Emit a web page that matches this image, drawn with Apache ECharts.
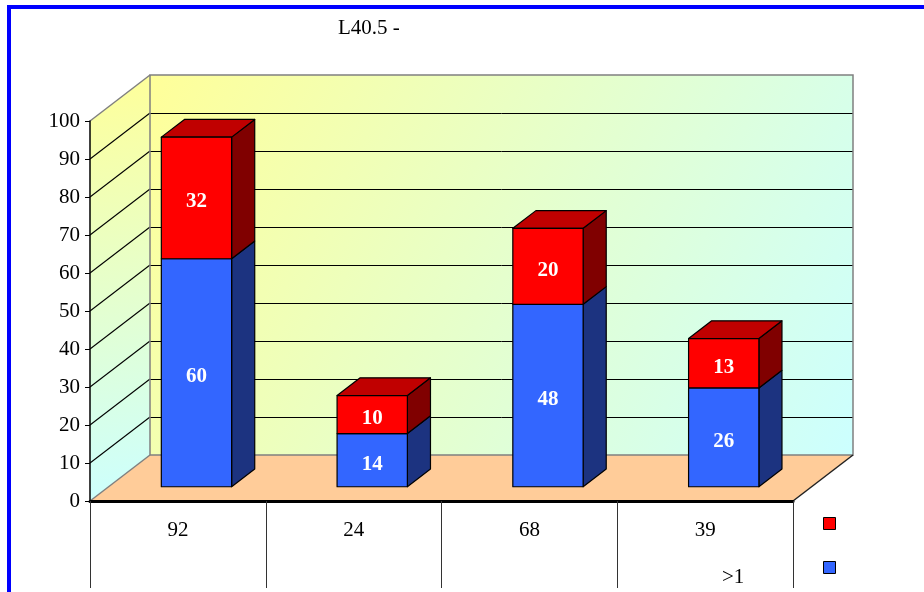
<!DOCTYPE html>
<html><head><meta charset="utf-8">
<script src="https://cdn.jsdelivr.net/npm/echarts@6/dist/echarts.min.js"></script>
<style>html,body{margin:0;padding:0;background:#fff}#c{width:924px;height:592px}</style>
</head><body><div id="c"></div>
<script>
// ---- data ----
const chartTitle = 'L40.5 -';
const categories = ['92', '24', '68', '39'];     // table row 1 (totals)
const tableNotes = ['', '', '', '>1'];            // table row 2
const blueValues = [60, 14, 48, 26];
const redValues = [32, 10, 20, 13];
const Y_MIN = 0, Y_MAX = 100, Y_STEP = 10;

// ---- style / projection ----
const FONT = 'Liberation Serif';
const DEPTH = [60, -46];      // oblique offset of back wall
const BAR_FRONT = 0.31;       // bar front face position in depth
const BAR_DEPTH = 0.385;      // bar depth fraction
const BAR_W = 0.4;            // bar width as fraction of band
const BLUE = {front: '#3366FF', side: '#1C3380', top: '#2850CC'};
const RED = {front: '#FF0000', side: '#800000', top: '#C00000'};

const chart = echarts.init(document.getElementById('c'), null, {renderer: 'canvas'});

function wallRender(params, api) {
  const cs = params.coordSys;
  const L = cs.x, R = cs.x + cs.width;
  const y0 = api.coord([0, Y_MIN])[1], y100 = api.coord([0, Y_MAX])[1];
  const dx = DEPTH[0], dy = DEPTH[1];
  const grad = (c0, c1) => new echarts.graphic.LinearGradient(0, 0, 1, 1, [
    {offset: 0, color: c0}, {offset: 1, color: c1}]);
  const ch = [];
  ch.push({type: 'polygon', shape: {points: [[L, y100], [L + dx, y100 + dy], [L + dx, y0 + dy], [L, y0]]},
    style: {fill: grad('#FFFF99', '#CCFFFF')}});
  ch.push({type: 'rect', shape: {x: L + dx, y: y100 + dy, width: cs.width, height: y0 - y100},
    style: {fill: grad('#FFFF99', '#CCFFFF')}});
  ch.push({type: 'polygon', shape: {points: [[L, y0], [L + dx, y0 + dy], [R + dx, y0 + dy], [R, y0]]},
    style: {fill: '#FFCC99'}});
  for (let v = Y_MIN + Y_STEP; v < Y_MAX; v += Y_STEP) {
    const y = api.coord([0, v])[1];
    const yb = Math.round(y + dy) + 0.5;
    ch.push({type: 'line', shape: {x1: L, y1: y, x2: L + dx, y2: y + dy}, style: {stroke: '#000', lineWidth: 1.1}});
    ch.push({type: 'line', shape: {x1: L + dx, y1: yb, x2: R + dx, y2: yb}, style: {stroke: '#000', lineWidth: 1}});
  }
  const gray = {stroke: '#808080', lineWidth: 1.5, fill: 'none'};
  ch.push({type: 'rect', shape: {x: L + dx, y: y100 + dy, width: cs.width, height: y0 - y100}, style: gray});
  ch.push({type: 'line', shape: {x1: L, y1: y100, x2: L + dx, y2: y100 + dy}, style: gray});
  ch.push({type: 'line', shape: {x1: L, y1: y0, x2: L + dx, y2: y0 + dy}, style: gray});
  ch.push({type: 'line', shape: {x1: R, y1: y0, x2: R + dx, y2: y0 + dy}, style: {stroke: '#222', lineWidth: 1.5}});
  return {type: 'group', children: ch};
}

function barRender(colors, isTop) {
  return function (params, api) {
    const i = api.value(0), base = api.value(1), val = api.value(2);
    const p0 = api.coord([i, base]), p1 = api.coord([i, base + val]);
    const bw = api.size([1, 0])[0] * BAR_W;
    const ox = DEPTH[0] * BAR_FRONT, oy = DEPTH[1] * BAR_FRONT;
    const dx = DEPTH[0] * BAR_DEPTH, dy = DEPTH[1] * BAR_DEPTH;
    const xl = p0[0] + ox - bw / 2, xr = xl + bw, yb = p0[1] + oy, yt = p1[1] + oy;
    const st = (f) => ({fill: f, stroke: '#000', lineWidth: 1.2, lineJoin: 'round'});
    const ch = [];
    ch.push({type: 'polygon', shape: {points: [[xr, yb], [xr + dx, yb + dy], [xr + dx, yt + dy], [xr, yt]]}, style: st(colors.side)});
    if (isTop) ch.push({type: 'polygon', shape: {points: [[xl, yt], [xl + dx, yt + dy], [xr + dx, yt + dy], [xr, yt]]}, style: st(colors.top)});
    ch.push({type: 'rect', shape: {x: xl, y: yt, width: bw, height: yb - yt}, style: st(colors.front)});
    ch.push({type: 'text', x: (xl + xr) / 2, y: (yt + yb) / 2 + 4,
      style: {text: String(val), fill: '#fff', font: 'bold 21px "' + FONT + '"', align: 'center', verticalAlign: 'middle'}});
    return {type: 'group', children: ch};
  };
}

const blueData = blueValues.map((v, i) => [i, 0, v]);
const redData = redValues.map((v, i) => [i, blueValues[i], v]);

chart.setOption({
  animation: false,
  backgroundColor: '#fff',
  title: {text: chartTitle, left: 338, top: 18, padding: 0,
    textStyle: {fontFamily: FONT, fontSize: 21, fontWeight: 'normal', color: '#000'}},
  legend: {orient: 'vertical', left: 818, top: 512, itemWidth: 12, itemHeight: 12, itemGap: 31,
    selectedMode: false, formatter: () => '',
    data: [
      {name: 'red', icon: 'rect', itemStyle: {color: RED.front, borderColor: '#000', borderWidth: 1}},
      {name: 'blue', icon: 'rect', itemStyle: {color: BLUE.front, borderColor: '#000', borderWidth: 1}}
    ]},
  grid: {left: 90, right: 131, top: 121, bottom: 91},
  xAxis: {
    type: 'category', data: categories,
    axisLine: {lineStyle: {color: '#000', width: 3}},
    axisTick: {show: true, length: 87, lineStyle: {color: '#333', width: 1}},
    axisLabel: {
      margin: 6, interval: 0,
      formatter: (v, idx) => tableNotes[idx] ? '{a|' + v + '}\n{b|' + tableNotes[idx] + '}' : '{a|' + v + '}',
      rich: {
        a: {fontFamily: FONT, fontSize: 21, lineHeight: 47, color: '#000'},
        b: {fontFamily: FONT, fontSize: 21, lineHeight: 47, color: '#000', padding: [0, 0, 0, 56]}
      }
    },
    splitLine: {show: false}
  },
  yAxis: {
    type: 'value', min: Y_MIN, max: Y_MAX, interval: Y_STEP,
    axisLine: {show: true, lineStyle: {color: '#000', width: 1.5}},
    axisTick: {show: true, length: 5, lineStyle: {color: '#000'}},
    axisLabel: {margin: 10, fontFamily: FONT, fontSize: 21, color: '#000'},
    splitLine: {show: false}
  },
  graphic: [{type: 'rect', shape: {x: 9, y: 7, width: 1000, height: 1000},
    style: {fill: 'none', stroke: '#0000FF', lineWidth: 4}, z: 100}],
  series: [
    {type: 'custom', name: 'walls', z: -1, silent: true, renderItem: wallRender, data: [[0, 0, 0]],
      encode: {x: 0, y: 2}},
    {type: 'custom', name: 'blue', renderItem: barRender(BLUE, false), data: blueData,
      itemStyle: {color: BLUE.front}, encode: {x: 0, y: 2}},
    {type: 'custom', name: 'red', renderItem: barRender(RED, true), data: redData,
      itemStyle: {color: RED.front}, encode: {x: 0, y: 2}}
  ]
});
</script>
</body></html>
